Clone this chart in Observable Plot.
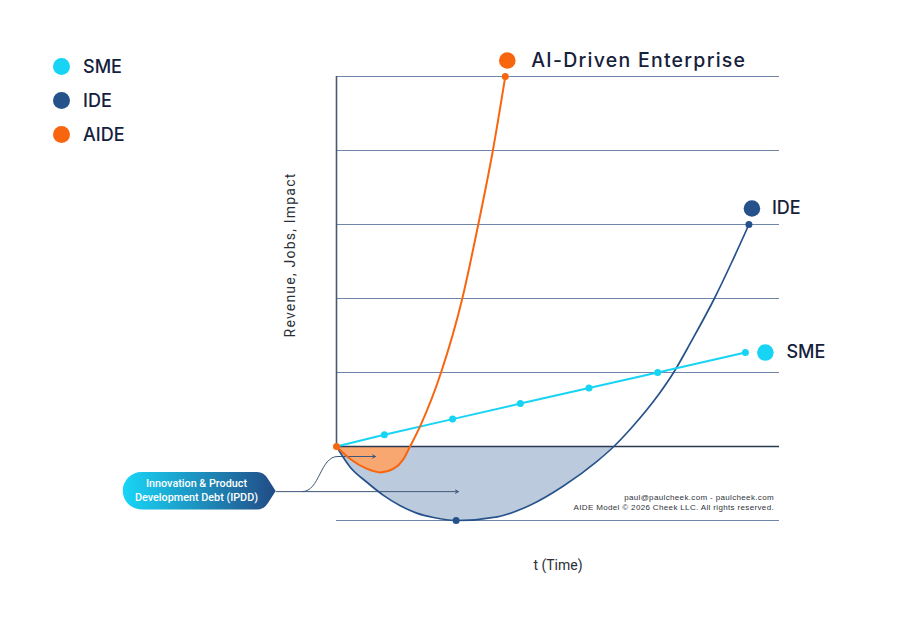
<!DOCTYPE html>
<html>
<head>
<meta charset="utf-8">
<script src="https://cdn.jsdelivr.net/npm/d3@7"></script>
<script src="https://cdn.jsdelivr.net/npm/@observablehq/plot@0.6"></script>
<style>
  html, body { margin: 0; padding: 0; background: #fff; }
  #wrap { position: relative; width: 900px; height: 624px; overflow: hidden; font-family: Inter, "Noto Sans", sans-serif; }
  #wrap svg.plot { position: absolute; left: 0; top: 0; }
  .legend { position: absolute; left: 53px; top: 49px; }
  .legend .row { display: flex; align-items: center; height: 34px; }
  .legend .sw { width: 17px; height: 17px; border-radius: 50%; margin-right: 13px; }
  .legend .lb { font-size: 18px; font-weight: 500; color: #14213d; }
  .ylab { position: absolute; left: 290px; top: 255px; transform: translate(-50%, -50%) rotate(-90deg); white-space: nowrap;
          font-size: 14px; letter-spacing: 1.2px; color: #2b2f36; font-family: Roboto, Inter, sans-serif; }
  .copy { position: absolute; right: 126px; top: 493px; text-align: right; font-family: "Liberation Sans", Arial, sans-serif;
          font-size: 8px; line-height: 10px; letter-spacing: 0.35px; color: #2f333a; }
  .pill { position: absolute; left: 120px; top: 470px; }
</style>
</head>
<body>
<div id="wrap"></div>
<script>
// ---- data (t in arbitrary time units, value in grid units) ----
const smeT   = [0, 1.08, 2.62, 4.15, 5.70, 7.25, 9.23];
const smeV   = [0, 0.16, 0.37, 0.58, 0.79, 1.00, 1.27];
const ideT   = [0, 0.31, 0.68, 1.06, 1.44, 1.81, 2.19, 2.70, 3.63, 4.38, 5.13, 5.88, 6.26, 6.64, 7.01, 7.28, 7.61, 7.99, 8.53, 8.93, 9.31];
const ideV   = [0, -0.28, -0.48, -0.66, -0.80, -0.90, -0.96, -1.0, -0.95, -0.79, -0.53, -0.20, 0, 0.24, 0.50, 0.71, 1.0, 1.40, 2.0, 2.5, 3.0];
const aideT  = [0, 0.31, 0.68, 0.99, 1.29, 1.50, 1.66, 1.90, 2.36, 2.84, 3.20, 3.53, 3.81];
const aideV  = [0, -0.17, -0.30, -0.35, -0.30, -0.18, 0, 0.29, 1.0, 2.0, 3.0, 4.0, 5.0];
const gridValues = [-1, 1, 2, 3, 4, 5];
const seriesNames = ["SME", "IDE", "AIDE"];
const seriesColors = ["#17d4f4", "#26528b", "#f7660f"];
const endLabels = ["SME", "IDE", "AI-Driven Enterprise"];
const calloutLines = ["Innovation & Product", "Development Debt (IPDD)"];
const copyLines = ["paul@paulcheek.com - paulcheek.com", "AIDE Model \u00A9 2026 Cheek LLC. All rights reserved."];
const xLabel = "t (Time)";
const yLabel = "Revenue, Jobs, Impact";

const toRows = (T, V) => T.map((t, i) => ({t, v: V[i]}));
const sme = toRows(smeT, smeV);
const ide = toRows(ideT, ideV);
const aide = toRows(aideT, aideV);
const ideNeg = ide.filter(d => d.v <= 0);
const aideNeg = aide.filter(d => d.v <= 0);
const [cSME, cIDE, cAIDE] = seriesColors;
const curve = "monotone-x";
const ideMin = ide.reduce((a, b) => (b.v < a.v ? b : a));

// annotation arrows (callout connectors) in data units
const longArrow = [{x1: -1.36, y1: -0.61, x2: 2.75, y2: -0.61}];
const sCurve = [{t: -0.77, v: -0.61}, {t: 0.02, v: -0.135}];
const shortArrow = [{x1: 0.02, y1: -0.135, x2: 0.88, y2: -0.135}];

const plot = Plot.plot({
  width: 900, height: 624,
  marginLeft: 336, marginRight: 121, marginTop: 76, marginBottom: 104,
  x: {domain: [0, 10], axis: null},
  y: {domain: [-1, 5], axis: null},
  style: {fontFamily: "Inter, sans-serif", background: "transparent", overflow: "visible"},
  marks: [
    Plot.ruleY(gridValues, {stroke: "#6f86a8", strokeWidth: 1}),
    Plot.areaY(ideNeg, {x: "t", y1: 0, y2: "v", fill: "#bccadd", curve}),
    Plot.areaY(aideNeg, {x: "t", y1: 0, y2: "v", fill: "#f9a771", curve}),
    Plot.ruleY([0], {stroke: "#2a3a55", strokeWidth: 1.6}),
    Plot.ruleX([0], {y1: 0, y2: 5, stroke: "#4a5870", strokeWidth: 1.6}),
    Plot.line(sCurve, {x: "t", y: "v", curve: "bump-x", stroke: "#3d5779", strokeWidth: 1, clip: false}),
    Plot.arrow(longArrow, {x1: "x1", y1: "y1", x2: "x2", y2: "y2", stroke: "#3d5779", strokeWidth: 1, headLength: 5}),
    Plot.arrow(shortArrow, {x1: "x1", y1: "y1", x2: "x2", y2: "y2", stroke: "#3d5779", strokeWidth: 1, headLength: 5}),
    Plot.line(ide, {x: "t", y: "v", stroke: cIDE, strokeWidth: 1.7, curve}),
    Plot.line(sme, {x: "t", y: "v", stroke: cSME, strokeWidth: 2}),
    Plot.line(aide, {x: "t", y: "v", stroke: cAIDE, strokeWidth: 2, curve}),
    Plot.dot(sme.slice(1), {x: "t", y: "v", r: 3.5, fill: cSME}),
    Plot.dot([ideMin, ide[ide.length - 1]], {x: "t", y: "v", r: 3.5, fill: cIDE}),
    Plot.dot([aide[0], aide[aide.length - 1]], {x: "t", y: "v", r: 3.5, fill: cAIDE}),
    // end labels
    Plot.dot([aide[aide.length - 1]], {x: "t", y: "v", r: 8.3, fill: cAIDE, dx: 2, dy: -16}),
    Plot.text([aide[aide.length - 1]], {x: "t", y: "v", text: () => endLabels[2], textAnchor: "start", dx: 26, dy: -16,
      fontSize: 19.5, fontWeight: 500, fill: "#16213a", className: "aide-label"}),
    Plot.dot([ide[ide.length - 1]], {x: "t", y: "v", r: 8.3, fill: cIDE, dx: 3, dy: -16}),
    Plot.text([ide[ide.length - 1]], {x: "t", y: "v", text: () => endLabels[1], textAnchor: "start", dx: 23, dy: -16,
      fontSize: 18, fontWeight: 500, fill: "#16213a"}),
    Plot.dot([sme[sme.length - 1]], {x: "t", y: "v", r: 8.3, fill: cSME, dx: 20, dy: 0}),
    Plot.text([sme[sme.length - 1]], {x: "t", y: "v", text: () => endLabels[0], textAnchor: "start", dx: 41, dy: 0,
      fontSize: 18, fontWeight: 500, fill: "#16213a"}),
    Plot.text([xLabel], {frameAnchor: "bottom", lineAnchor: "middle", dy: 45, fontSize: 14, fill: "#2b2f36", fontFamily: "Roboto, Inter, sans-serif"})
  ]
});
plot.classList.add("plot");
d3.select(plot).selectAll(".aide-label text").style("letter-spacing", "1.25px");
const wrap = document.getElementById("wrap");
wrap.appendChild(plot);

// legend
const legend = document.createElement("div");
legend.className = "legend";
seriesNames.forEach((n, i) => {
  const row = document.createElement("div");
  row.className = "row";
  row.innerHTML = `<div class="sw" style="background:${seriesColors[i]}"></div><div class="lb">${n}</div>`;
  legend.appendChild(row);
});
wrap.appendChild(legend);

// y label
const yl = document.createElement("div");
yl.className = "ylab";
yl.textContent = yLabel;
wrap.appendChild(yl);

// copyright
const cp = document.createElement("div");
cp.className = "copy";
cp.innerHTML = copyLines.join("<br>");
wrap.appendChild(cp);

// callout pill
const pill = d3.create("svg").attr("class", "pill").attr("width", 160).attr("height", 42);
const grad = pill.append("defs").append("linearGradient").attr("id", "pg").attr("x1", "0%").attr("x2", "100%");
grad.append("stop").attr("offset", "0%").attr("stop-color", "#18d6f7");
grad.append("stop").attr("offset", "100%").attr("stop-color", "#224b86");
pill.append("path")
  .attr("d", "M 21.5 2 H 137 Q 144 2 148 9 L 155.7 21 L 148 33 Q 144 39.5 137 39.5 H 21.5 A 18.75 18.75 0 0 1 21.5 2 Z")
  .attr("fill", "url(#pg)");
const tx = pill.append("text").attr("fill", "#fff").attr("font-size", 10.8).attr("font-weight", 500)
  .attr("font-family", "Roboto, Inter, sans-serif").attr("text-anchor", "middle");
calloutLines.forEach((l, i) => tx.append("tspan").attr("x", 76.5).attr("y", 16.8 + i * 13.8).text(l));
wrap.appendChild(pill.node());
</script>
</body>
</html>
